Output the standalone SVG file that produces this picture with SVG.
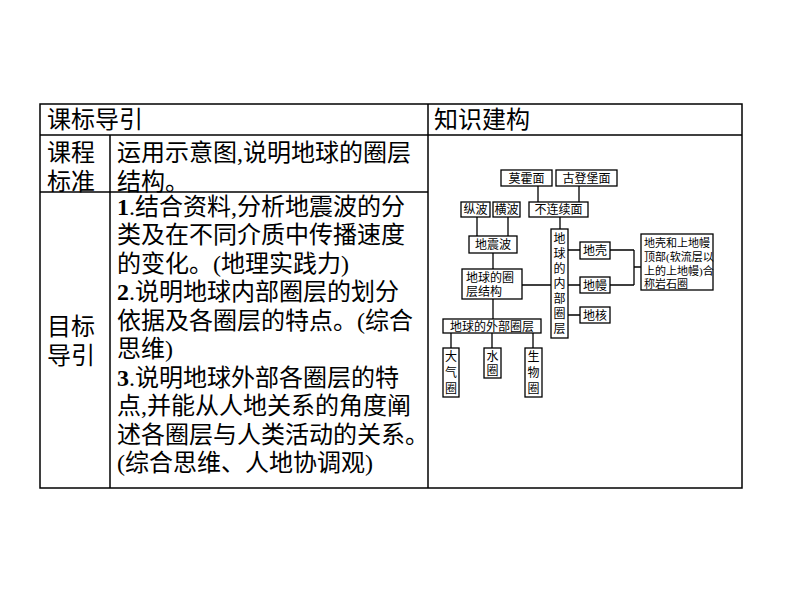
<svg xmlns="http://www.w3.org/2000/svg" width="794" height="596" viewBox="0 0 794 596">
<style>
.t{font-family:"Liberation Serif","Noto Sans CJK SC",serif;font-size:24px;fill:#000}
.s{font-family:"Liberation Serif","Noto Sans CJK SC",serif;font-size:12px;fill:#000}
.b{fill:#fff;stroke:#000;stroke-width:1.3}
.l{stroke:#000;stroke-width:1.3;fill:none}
.g{stroke:#000;stroke-width:1.5;fill:none}
</style>
<rect width="794" height="596" fill="#fff"/>
<g id="table">
<rect class="g" x="40" y="104" width="702" height="384"/>
<line class="g" x1="40" y1="135" x2="742" y2="135"/>
<line class="g" x1="40" y1="192" x2="428" y2="192"/>
<line class="g" x1="428" y1="104" x2="428" y2="488"/>
<line class="g" x1="110" y1="135" x2="110" y2="488"/>
<text class="t" x="47" y="128">课标导引</text>
<text class="t" x="434" y="128">知识建构</text>
<text class="t" x="47" y="161">课程</text>
<text class="t" x="47" y="190">标准</text>
<text class="t" x="117" y="161">运用示意图,说明地球的圈层</text>
<text class="t" x="117" y="190">结构。</text>
<text class="t" x="47" y="335">目标</text>
<text class="t" x="47" y="364">导引</text>
<g class="t">
<text x="117" y="215"><tspan font-weight="bold">1</tspan>.结合资料,分析地震波的分</text>
<text x="117" y="243">类及在不同介质中传播速度</text>
<text x="117" y="272">的变化。(地理实践力)</text>
<text x="117" y="300"><tspan font-weight="bold">2</tspan>.说明地球内部圈层的划分</text>
<text x="117" y="329">依据及各圈层的特点。(综合</text>
<text x="117" y="357">思维)</text>
<text x="117" y="386"><tspan font-weight="bold">3</tspan>.说明地球外部各圈层的特</text>
<text x="117" y="414">点,并能从人地关系的角度阐</text>
<text x="117" y="443">述各圈层与人类活动的关系。</text>
<text x="117" y="471">(综合思维、人地协调观)</text>
</g>
</g>
<g id="connectors">
<path class="l" d="M538 186V202M579 186V202M477 217V236M508 217V236M560 217V229M493 253V269M522 285H551M493 299V319M451 333V348M492 333V348M533 333V348M568 250H580M568 285H580M568 315H580M610 250H634M610 285H634M634 250V285M634 267H641"/>
</g>
<g id="n1"><rect class="b" x="501" y="170" width="51" height="16"/><text class="s" x="526.5" y="182.5" text-anchor="middle">莫霍面</text></g>
<g id="n2"><rect class="b" x="556" y="170" width="61" height="16"/><text class="s" x="586.5" y="182.5" text-anchor="middle">古登堡面</text></g>
<g id="n3"><rect class="b" x="461" y="202" width="29" height="15"/><text class="s" x="475.5" y="214" text-anchor="middle">纵波</text></g>
<g id="n4"><rect class="b" x="493" y="202" width="27" height="15"/><text class="s" x="506.5" y="214" text-anchor="middle">横波</text></g>
<g id="n5"><rect class="b" x="529" y="202" width="59" height="15"/><text class="s" x="558.5" y="214" text-anchor="middle">不连续面</text></g>
<g id="n6"><rect class="b" x="469" y="236" width="48" height="17"/><text class="s" x="493" y="249" text-anchor="middle">地震波</text></g>
<g id="n7"><rect class="b" x="462" y="269" width="60" height="30"/><text class="s" x="466" y="282">地球的圈</text><text class="s" x="466" y="296">层结构</text></g>
<g id="n8"><rect class="b" x="551" y="229" width="17" height="109"/>
<text class="s" x="559.5" text-anchor="middle"><tspan x="559.5" y="243">地</tspan><tspan x="559.5" y="258">球</tspan><tspan x="559.5" y="273">的</tspan><tspan x="559.5" y="288">内</tspan><tspan x="559.5" y="303">部</tspan><tspan x="559.5" y="318">圈</tspan><tspan x="559.5" y="333">层</tspan></text></g>
<g id="n9"><rect class="b" x="443" y="319" width="98" height="14"/><text class="s" x="492" y="330.5" text-anchor="middle">地球的外部圈层</text></g>
<g id="n10"><rect class="b" x="443" y="348" width="16" height="49"/><text class="s" text-anchor="middle"><tspan x="451" y="361">大</tspan><tspan x="451" y="377">气</tspan><tspan x="451" y="393">圈</tspan></text></g>
<g id="n11"><rect class="b" x="484" y="348" width="17" height="30"/><text class="s" text-anchor="middle"><tspan x="492.5" y="361">水</tspan><tspan x="492.5" y="375">圈</tspan></text></g>
<g id="n12"><rect class="b" x="525" y="348" width="17" height="49"/><text class="s" text-anchor="middle"><tspan x="533.5" y="361">生</tspan><tspan x="533.5" y="377">物</tspan><tspan x="533.5" y="393">圈</tspan></text></g>
<g id="n13"><rect class="b" x="580" y="242" width="30" height="17"/><text class="s" x="595" y="255" text-anchor="middle">地壳</text></g>
<g id="n14"><rect class="b" x="580" y="277" width="30" height="16"/><text class="s" x="595" y="289.5" text-anchor="middle">地幔</text></g>
<g id="n15"><rect class="b" x="580" y="307" width="30" height="16"/><text class="s" x="595" y="319.5" text-anchor="middle">地核</text></g>
<g id="n16"><rect class="b" x="641" y="234" width="72" height="56"/>
<text class="s" style="font-size:11px"><tspan x="644" y="247">地壳和上地幔</tspan><tspan x="644" y="261">顶部(软流层以</tspan><tspan x="644" y="275">上的上地幔)合</tspan><tspan x="644" y="288">称岩石圈</tspan></text></g>
</svg>
